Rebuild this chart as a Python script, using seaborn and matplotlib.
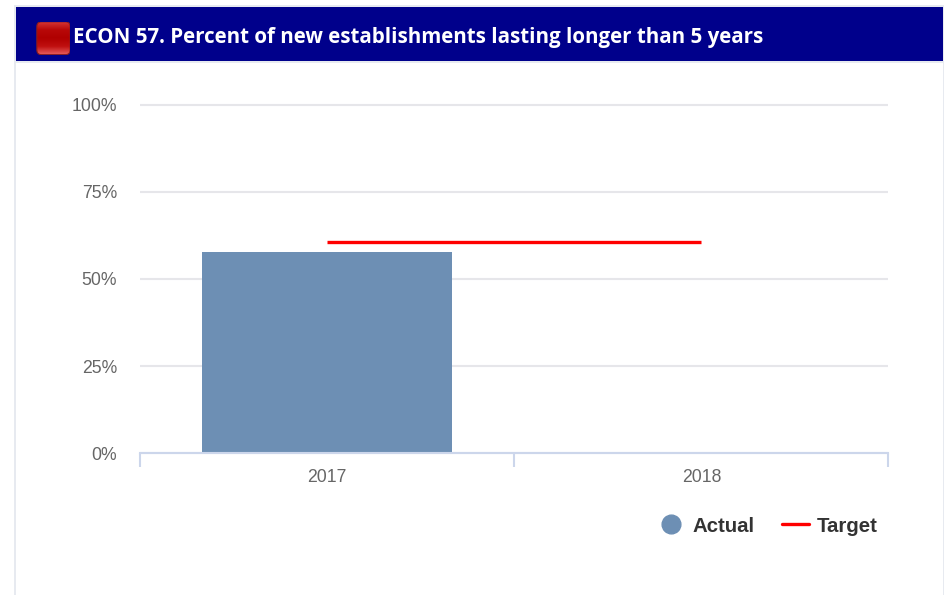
import numpy as np
import pandas as pd
import matplotlib
matplotlib.use("Agg")
import matplotlib.pyplot as plt
from matplotlib.lines import Line2D
from matplotlib.patches import FancyBboxPatch, Rectangle
from matplotlib.colors import LinearSegmentedColormap
import seaborn as sns

years = ["2017", "2018"]
actual = [57.6, np.nan]
target = [60.5, 60.5]
y_ticks = [0, 25, 50, 75, 100]
y_labels = ["0%", "25%", "50%", "75%", "100%"]
title = "ECON 57. Percent of new establishments lasting longer than 5 years"

W, H = 945, 595
BAR_BLUE = "#6d8fb4"
GRID = "#e6e6ea"
AXIS = "#ccd6eb"
BORDER = "#e7eaf0"
NAVY = "#00008b"

sns.set_theme(style="white")
plt.rcParams["font.family"] = ["Liberation Sans", "DejaVu Sans"]

fig = plt.figure(figsize=(W / 100, H / 100), dpi=100, facecolor="white")


def px_box(x0, y0, x1, y1):
    """Figure-fraction box from pixel edges measured from the top left."""
    return [x0 / W, 1 - y1 / H, (x1 - x0) / W, (y1 - y0) / H]


# Card outline and title band
for x0, y0, x1, y1, color in [
    (14.5, 5, 16, 595, BORDER),
    (943.5, 5, 945, 595, BORDER),
    (14.5, 5, 945, 7, BORDER),
    (16, 7, 943.5, 61, NAVY),
    (16, 61, 943.5, 62.5, BORDER),
]:
    fig.add_artist(Rectangle((x0 / W, 1 - y1 / H), (x1 - x0) / W, (y1 - y0) / H,
                             transform=fig.transFigure, facecolor=color,
                             edgecolor="none"))

# Glossy red status badge
badge = fig.add_axes(px_box(36.5, 21.5, 70.5, 55), zorder=3)
badge.axis("off")
gloss = LinearSegmentedColormap.from_list(
    "gloss", ["#d63a3a", "#b80808", "#b00000", "#c01010", "#e86060"])
img = badge.imshow(np.linspace(0, 1, 64).reshape(-1, 1), aspect="auto", cmap=gloss,
                   extent=(0, 1, 0, 1), origin="upper")
shape = FancyBboxPatch((0.01, 0.01), 0.98, 0.98,
                       boxstyle="round,pad=0,rounding_size=0.14",
                       transform=badge.transAxes, facecolor="none",
                       edgecolor="#8a1c1c", linewidth=0.8)
badge.add_patch(shape)
img.set_clip_path(shape)

fig.text(73 / W, 1 - 37 / H, title, color="white", fontsize=14.8,
         fontweight="bold", family="Open Sans", va="center", ha="left", zorder=4)

# Chart area
ax = fig.add_axes(px_box(140, 104.5, 888.5, 453.2))
df = pd.DataFrame({"year": years, "actual": actual, "target": target})
sns.barplot(data=df, x="year", y="actual", color=BAR_BLUE, saturation=1,
            width=0.67, linewidth=0, ax=ax, zorder=3)
sns.lineplot(data=df, x="year", y="target", color="#ff0000", linewidth=2.4,
             ax=ax, zorder=4, solid_capstyle="butt")

ax.set_xlim(-0.5, 1.5)
ax.set_ylim(0, 100)
ax.set_xlabel("")
ax.set_ylabel("")
ax.set_yticks(y_ticks, y_labels)
ax.yaxis.grid(True, color=GRID, linewidth=1.5, zorder=0)
ax.xaxis.grid(False)
ax.set_axisbelow(True)
ax.patch.set_alpha(0)
for gridline in ax.get_ygridlines():
    gridline.set_clip_on(False)
    gridline.set_solid_capstyle("butt")
for side in ("top", "left", "right"):
    ax.spines[side].set_visible(False)
ax.spines["bottom"].set_color(AXIS)
ax.spines["bottom"].set_linewidth(1.5)
ax.spines["bottom"].set_zorder(5)

ax.tick_params(axis="y", length=0, pad=16.5, labelsize=12.7, labelcolor="#666666")
ax.tick_params(axis="x", length=0, pad=11.5, labelsize=12.7, labelcolor="#666666")

# Axis boundary ticks sit between the categories
for xpos in (-0.5, 0.5, 1.5):
    ax.plot([xpos, xpos], [0, -14 / 349 * 100], color=AXIS, linewidth=1.5,
            clip_on=False, zorder=5, solid_capstyle="butt")

handles = [
    Line2D([], [], linestyle="none", marker="o", markersize=13.5, color=BAR_BLUE),
    Line2D([], [], color="#ff0000", linewidth=2.4),
]
ax.legend(handles, ["Actual", "Target"], ncol=2, frameon=False,
          loc="center right", bbox_to_anchor=(878 / W, 1 - 526 / H),
          bbox_transform=fig.transFigure, borderpad=0, borderaxespad=0,
          handlelength=1.3, handletextpad=0.4, columnspacing=1.36,
          prop={"family": "Liberation Sans", "weight": "bold", "size": 14.7},
          labelcolor="#333333")

fig.savefig("out.png", dpi=100, facecolor="white")
